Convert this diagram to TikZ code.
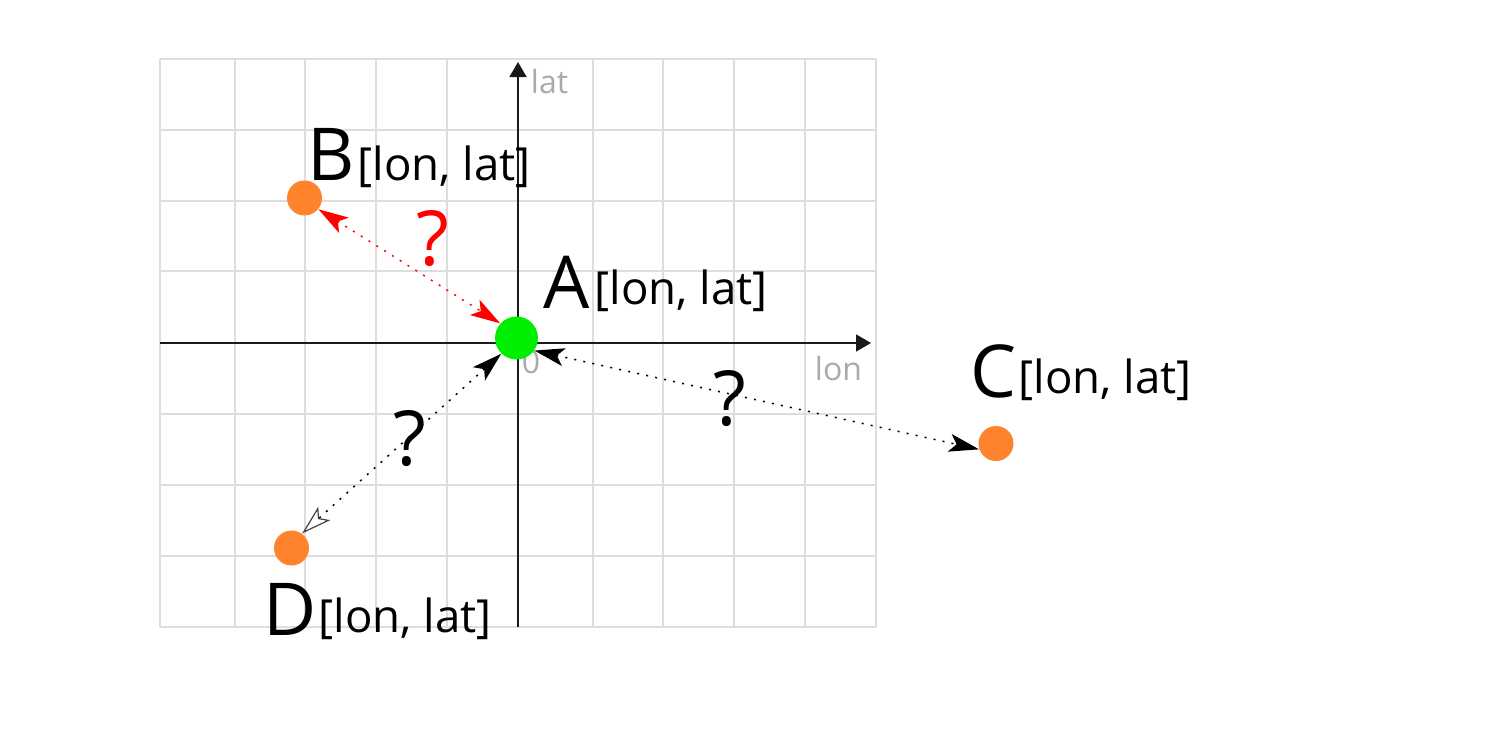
\documentclass[tikz,border=0pt]{standalone}
\usepackage{fontspec}
\setmainfont{Open Sans}
\usetikzlibrary{arrows.meta}
\definecolor{gridgray}{HTML}{DDDDDD}
\definecolor{axtext}{HTML}{AAAAAA}
\definecolor{ptorange}{HTML}{FE832C}
\definecolor{ptgreen}{HTML}{00EE00}
\definecolor{qred}{HTML}{FF0000}
\definecolor{opentip}{HTML}{444444}
\begin{document}
\begin{tikzpicture}[x=0.5pt,y=-0.5pt,
  gridline/.style={draw=gridgray, line width=1pt},
  axisline/.style={draw=black!90, line width=0.75pt, -{Triangle[length=7.5pt,width=8.5pt]}},
  axlabel/.style={text=axtext, font=\fontsize{16}{19}\selectfont, inner sep=0, anchor=base west},
  ptA/.style={circle, fill=ptgreen, minimum size=21.5pt, inner sep=0},
  pt/.style={circle, fill=ptorange, minimum size=17.5pt, inner sep=0},
  bigletter/.style={font=\fontsize{36.5}{40}\selectfont, inner sep=0, anchor=base west},
  coords/.style={font=\fontsize{22.8}{26}\selectfont, inner sep=0, anchor=base west},
  qmark/.style={font=\fontsize{38}{44}\selectfont, inner sep=0, anchor=base},
  link/.style={line width=0.75pt, dash pattern=on 1pt off 3.6pt}
]
\useasboundingbox (0,0) rectangle (1500,735);
% grid
\foreach \x in {160,235,305,376,447,593,663,734,805,876}
  \draw[gridline] (\x,59) -- (\x,627);
\foreach \y in {59,130,201,271,414,485,556,627}
  \draw[gridline] (160,\y) -- (876,\y);
% axes
\draw[axisline] (160,343) -- (871,343);
\draw[axisline] (518,627) -- (518,62);
\node[axlabel] (latlbl) at (530.5,93) {lat};
\node[axlabel] (lonlbl) at (814.5,380) {lon};
\node[axlabel] (zero) at (521.5,373) {0};
% points
\node[ptA] (A) at (516.5,338) {};
\node[pt] (B) at (304.5,198) {};
\node[pt] (C) at (996,443.5) {};
\node[pt] (D) at (291.5,548) {};
% connectors
\draw[link, draw=qred, {Stealth[length=15pt,width=9pt,inset=3.5pt,color=qred]}-{Stealth[length=15pt,width=9pt,inset=3.5pt,color=qred]}] (B.-39) -- (A.138);
\draw[link, {Stealth[length=15pt,width=9pt,inset=3.5pt]}-{Stealth[length=15pt,width=9pt,inset=3.5pt]}] (A.-35) -- (C.199);
\draw[link, {Stealth[length=15pt,width=9pt,inset=3.5pt]}-{Stealth[open,length=15pt,width=9pt,inset=3.5pt,color=opentip,line width=0.6pt]}] (A.226) -- (D.54);
% question marks
\node[qmark, text=qred] (q1) at (433,265) {?};
\node[qmark] (q2) at (410,465) {?};
\node[qmark] (q3) at (730,425) {?};
% labels
\node[bigletter] (labB) at (307,180) {B};
\node[coords] (coB) at (357.5,180) {[lon, lat]};
\node[bigletter] (labA) at (543,308) {A};
\node[coords] (coA) at (594.5,304) {[lon, lat]};
\node[bigletter] (labC) at (970.5,397) {C};
\node[coords] (coC) at (1018.5,393) {[lon, lat]};
\node[bigletter] (labD) at (263,635) {D};
\node[coords] (coD) at (318.5,632) {[lon, lat]};
\end{tikzpicture}
\end{document}
